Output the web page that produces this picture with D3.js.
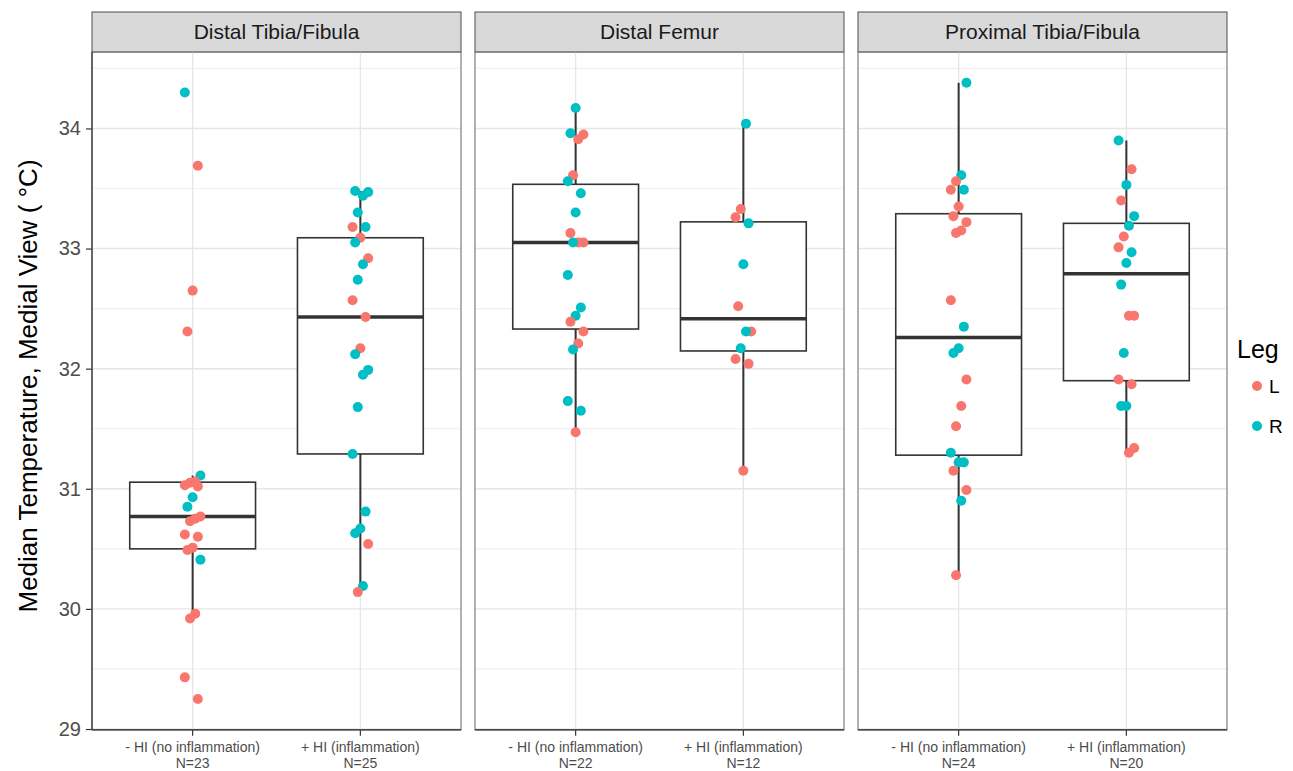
<!DOCTYPE html>
<html>
<head>
<meta charset="utf-8">
<script src="https://cdn.jsdelivr.net/npm/d3@7"></script>
<style>
  body { margin: 0; background: #fff; }
  text { font-family: "Liberation Sans", Arial, sans-serif; }
</style>
</head>
<body>
<svg id="chart" width="1293" height="771"></svg>
<script>
// facets, groups, ticks
const FACETS = ['Distal Tibia/Fibula', 'Distal Femur', 'Proximal Tibia/Fibula']
const GROUPS = ['- HI (no inflammation)', '+ HI (inflammation)']
const Y_TICKS = [29, 30, 31, 32, 33, 34]
const LEGS = ['L', 'R']

// median temperatures, one pair of arrays per facet / group
const distTibNoL = [33.69, 32.65, 32.31, 31.06, 31.05, 31.03, 31.02, 30.77, 30.75, 30.73, 30.62, 30.60, 30.51, 30.49, 29.96, 29.92, 29.43, 29.25]
const distTibNoR = [34.30, 31.11, 30.93, 30.85, 30.41]
const distTibHiL = [33.18, 33.09, 32.92, 32.57, 32.43, 32.17, 30.54, 30.14]
const distTibHiR = [33.48, 33.47, 33.44, 33.30, 33.18, 33.05, 32.87, 32.74, 32.12, 31.99, 31.95, 31.68, 31.29, 30.81, 30.67, 30.63, 30.19]

const femurNoL = [33.95, 33.91, 33.61, 33.13, 33.05, 33.05, 32.39, 32.31, 32.21, 31.47]
const femurNoR = [34.17, 33.96, 33.56, 33.46, 33.30, 33.05, 32.78, 32.51, 32.44, 32.16, 31.73, 31.65]
const femurHiL = [33.33, 33.26, 32.52, 32.31, 32.08, 32.04, 31.15]
const femurHiR = [34.04, 33.21, 32.87, 32.31, 32.17]

const proxTibNoL = [33.56, 33.49, 33.35, 33.27, 33.22, 33.15, 33.13, 32.57, 31.91, 31.69, 31.52, 31.15, 30.99, 30.28]
const proxTibNoR = [34.38, 33.61, 33.49, 32.35, 32.17, 32.13, 31.30, 31.22, 31.22, 30.90]
const proxTibHiL = [33.66, 33.40, 33.10, 33.01, 32.44, 32.44, 31.91, 31.87, 31.34, 31.30]
const proxTibHiR = [33.90, 33.53, 33.27, 33.19, 32.97, 32.88, 32.70, 32.13, 31.69, 31.69]

const DATA = [
  [[distTibNoL, distTibNoR], [distTibHiL, distTibHiR]],
  [[femurNoL, femurNoR], [femurHiL, femurHiR]],
  [[proxTibNoL, proxTibNoR], [proxTibHiL, proxTibHiR]]
]

const COLORS = { L: '#F8766D', R: '#00BFC4' }

const svg = d3.select('#chart')
const PANEL_X = 92
const PANEL_W = 369
const GAP = 14
const STRIP_TOP = 12
const STRIP_H = 40
const TOP = STRIP_TOP + STRIP_H
const BOTTOM = 729.8

// y scale : data range + 5% like ggplot
const allVals = DATA.flat(2).flat()
const [lo, hi] = d3.extent(allVals)
const pad = (hi - lo) * 0.05
const y = d3.scaleLinear().domain([lo - pad, hi + pad]).range([BOTTOM, TOP])

const x = d3.scalePoint().domain(GROUPS).range([0, PANEL_W]).padding(0.6)
const boxW = x.step() * 0.75

// y axis title
svg.append('text')
  .attr('transform', `translate(37, 386) rotate(-90)`)
  .attr('text-anchor', 'middle')
  .attr('font-size', 26)
  .attr('fill', '#000')
  .text('Median Temperature, Medial View ( °C)')

// y axis labels + ticks
const yAxis = svg.append('g').attr('transform', `translate(${PANEL_X},0)`)
  .call(d3.axisLeft(y).tickValues(Y_TICKS).tickSize(6).tickPadding(5).tickFormat(d3.format('d')))
yAxis.select('.domain').remove()
yAxis.selectAll('.tick line').attr('stroke', '#333').attr('stroke-width', 1.2)
yAxis.selectAll('.tick text').attr('font-size', 20).attr('fill', '#4d4d4d')
  .style('font-family', '"Liberation Sans", Arial, sans-serif')

const minor = d3.range(29.5, 34.6, 1)

FACETS.forEach((facet, fi) => {
  const px = PANEL_X + fi * (PANEL_W + GAP)
  const g = svg.append('g').attr('transform', `translate(${px},0)`)

  // strip
  g.append('rect')
    .attr('x', 0).attr('y', STRIP_TOP).attr('width', PANEL_W).attr('height', STRIP_H)
    .attr('fill', '#d9d9d9').attr('stroke', '#4d4d4d').attr('stroke-width', 1)
  g.append('text')
    .attr('x', PANEL_W / 2).attr('y', STRIP_TOP + STRIP_H / 2 + 7)
    .attr('text-anchor', 'middle').attr('font-size', 21).attr('fill', '#1a1a1a')
    .text(facet)

  // grid
  g.selectAll('.minor').data(minor).enter().append('line')
    .attr('x1', 0).attr('x2', PANEL_W)
    .attr('y1', d => y(d)).attr('y2', d => y(d))
    .attr('stroke', '#f0f0f0').attr('stroke-width', 1.2)
  g.selectAll('.major').data(Y_TICKS).enter().append('line')
    .attr('x1', 0).attr('x2', PANEL_W)
    .attr('y1', d => y(d)).attr('y2', d => y(d))
    .attr('stroke', '#e6e6e6').attr('stroke-width', 1.4)
  g.selectAll('.vgrid').data(GROUPS).enter().append('line')
    .attr('x1', d => x(d)).attr('x2', d => x(d))
    .attr('y1', TOP).attr('y2', BOTTOM)
    .attr('stroke', '#e6e6e6').attr('stroke-width', 1.4)

  GROUPS.forEach((grp, gi) => {
    const cx = x(grp)
    const [lv, rv] = DATA[fi][gi]
    const vals = lv.concat(rv).sort(d3.ascending)
    const q1 = d3.quantile(vals, 0.25)
    const med = d3.quantile(vals, 0.5)
    const q3 = d3.quantile(vals, 0.75)
    const iqr = q3 - q1
    const wLo = d3.min(vals.filter(v => v >= q1 - 1.5 * iqr))
    const wHi = d3.max(vals.filter(v => v <= q3 + 1.5 * iqr))

    // whiskers
    g.append('line').attr('x1', cx).attr('x2', cx).attr('y1', y(wLo)).attr('y2', y(q1))
      .attr('stroke', '#333').attr('stroke-width', 2)
    g.append('line').attr('x1', cx).attr('x2', cx).attr('y1', y(q3)).attr('y2', y(wHi))
      .attr('stroke', '#333').attr('stroke-width', 2)
    // box
    g.append('rect')
      .attr('x', cx - boxW / 2).attr('width', boxW)
      .attr('y', y(q3)).attr('height', y(q1) - y(q3))
      .attr('fill', '#fff').attr('stroke', '#333').attr('stroke-width', 1.6)
    g.append('line')
      .attr('x1', cx - boxW / 2).attr('x2', cx + boxW / 2)
      .attr('y1', y(med)).attr('y2', y(med))
      .attr('stroke', '#333').attr('stroke-width', 3.5)

    // points, with a fixed small jitter
    const pts = lv.map(v => ({ v, leg: 'L' })).concat(rv.map(v => ({ v, leg: 'R' })))
      .sort((a, b) => b.v - a.v)
    g.selectAll(null).data(pts).enter().append('circle')
      .attr('cx', (d, i) => cx + (((i * 5 + fi * 3 + gi) % 7) - 3) * 2.6)
      .attr('cy', d => y(d.v))
      .attr('r', 5)
      .attr('fill', d => COLORS[d.leg])

    // x tick + labels
    g.append('line').attr('x1', cx).attr('x2', cx).attr('y1', BOTTOM).attr('y2', BOTTOM + 6)
      .attr('stroke', '#333').attr('stroke-width', 1.2)
    g.append('text').attr('x', cx).attr('y', BOTTOM + 22)
      .attr('text-anchor', 'middle').attr('font-size', 14).attr('fill', '#4d4d4d')
      .text(grp)
    g.append('text').attr('x', cx).attr('y', BOTTOM + 38)
      .attr('text-anchor', 'middle').attr('font-size', 14).attr('fill', '#4d4d4d')
      .text('N=' + vals.length)
  })

  // panel border
  g.append('rect')
    .attr('x', 0).attr('y', TOP).attr('width', PANEL_W).attr('height', BOTTOM - TOP)
    .attr('fill', 'none').attr('stroke', '#7f7f7f').attr('stroke-width', 1.2)
  g.append('line').attr('x1', 0).attr('x2', PANEL_W).attr('y1', BOTTOM).attr('y2', BOTTOM)
    .attr('stroke', '#333').attr('stroke-width', 1.2)
  if (fi === 0) {
    g.append('line').attr('x1', 0).attr('x2', 0).attr('y1', TOP).attr('y2', BOTTOM)
      .attr('stroke', '#333').attr('stroke-width', 1.2)
  }
})

// legend
const leg = svg.append('g').attr('transform', 'translate(1237,0)')
leg.append('text').attr('x', 0).attr('y', 358).attr('font-size', 25).attr('fill', '#000').text('Leg')
leg.selectAll('circle').data(LEGS).enter().append('circle')
  .attr('cx', 20).attr('cy', (d, i) => 386 + i * 40).attr('r', 5)
  .attr('fill', d => COLORS[d])
leg.selectAll('.lab').data(LEGS).enter().append('text')
  .attr('x', 32).attr('y', (d, i) => 393 + i * 40)
  .attr('font-size', 19).attr('fill', '#000').text(d => d)
</script>
</body>
</html>
